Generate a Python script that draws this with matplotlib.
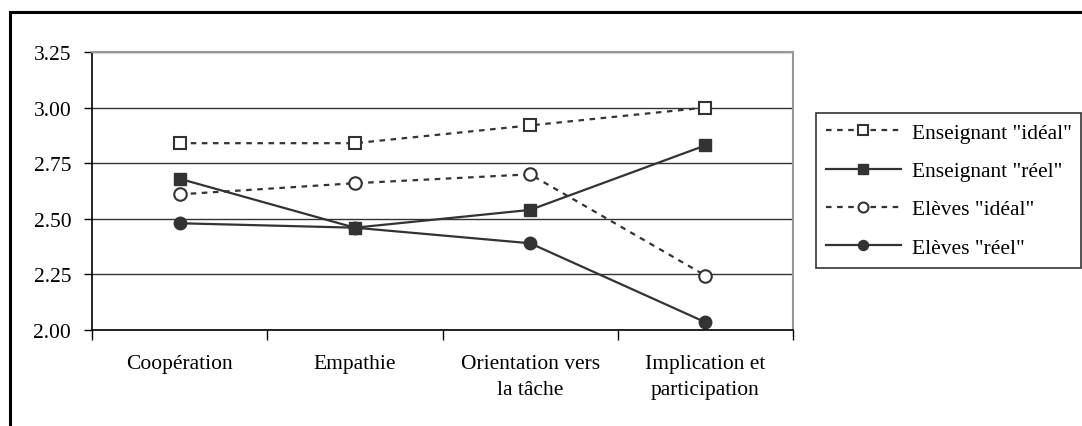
import matplotlib
matplotlib.use('Agg')
import matplotlib.pyplot as plt
from matplotlib.patches import Rectangle

categories = ['Coopération', 'Empathie', 'Orientation vers\nla tâche', 'Implication et\nparticipation']
ens_ideal = [2.84, 2.84, 2.92, 3.00]
ens_reel = [2.68, 2.46, 2.54, 2.83]
elv_ideal = [2.61, 2.66, 2.70, 2.245]
elv_reel = [2.48, 2.46, 2.39, 2.035]
yticks = [2.00, 2.25, 2.50, 2.75, 3.00, 3.25]

plt.rcParams['font.family'] = ['Liberation Serif', 'DejaVu Serif']
plt.rcParams['font.size'] = 15.5

fig = plt.figure(figsize=(10.82, 4.27), dpi=100)
ax = fig.add_axes([92/1082, 1 - 331/427, (793-92)/1082, (331-53)/427])

# outer frame of the chart object
fig.patches.append(Rectangle((10/1082, -0.1), 1.2, 1.1 - 13/427, transform=fig.transFigure,
                             fill=False, edgecolor='black', linewidth=2.2, zorder=0))

c = '#333333'
x = range(len(categories))
ax.plot(x, ens_ideal, color=c, lw=1.6, dashes=(2.5, 2.5), marker='s', ms=9,
        mfc='white', mec=c, mew=1.5, label='Enseignant "idéal"')
ax.plot(x, ens_reel, color=c, lw=1.6, marker='s', ms=9,
        mfc=c, mec=c, label='Enseignant "réel"')
ax.plot(x, elv_ideal, color=c, lw=1.6, dashes=(2.5, 2.5), marker='o', ms=9,
        mfc='white', mec=c, mew=1.5, label='Elèves "idéal"')
ax.plot(x, elv_reel, color=c, lw=1.6, marker='o', ms=9,
        mfc=c, mec=c, label='Elèves "réel"')

ax.set_ylim(2.0, 3.25)
ax.set_xlim(-0.5, 3.5)
ax.set_yticks(yticks)
ax.set_yticklabels(['%.2f' % v for v in yticks])
ax.yaxis.grid(True, color=c, lw=1)
ax.set_axisbelow(True)

ax.set_xticks([-0.5, 0.5, 1.5, 2.5, 3.5])
ax.set_xticklabels([])
ax.set_xticks(list(x), minor=True)
ax.set_xticklabels(categories, minor=True, linespacing=1.55)
ax.tick_params(axis='x', which='major', direction='out', length=7, width=1, color='black')
ax.tick_params(axis='x', which='minor', length=0, pad=17)
ax.tick_params(axis='y', direction='out', length=6, width=1, pad=9, color='black')

for s in ['left', 'bottom']:
    ax.spines[s].set_color('black')
    ax.spines[s].set_linewidth(1.2)
for s in ['top', 'right']:
    ax.spines[s].set_color('#999999')
    ax.spines[s].set_linewidth(1.5)

leg = ax.legend(loc='upper left', bbox_to_anchor=(816/1082, 1 - 114/427),
                bbox_transform=fig.transFigure, frameon=True, fancybox=False,
                edgecolor='black', handlelength=3.5, handletextpad=0.5,
                borderpad=0.45, labelspacing=0.85, borderaxespad=0, markerscale=0.8)
leg.get_frame().set_linewidth(1.2)

fig.savefig('out.png', dpi=100)
